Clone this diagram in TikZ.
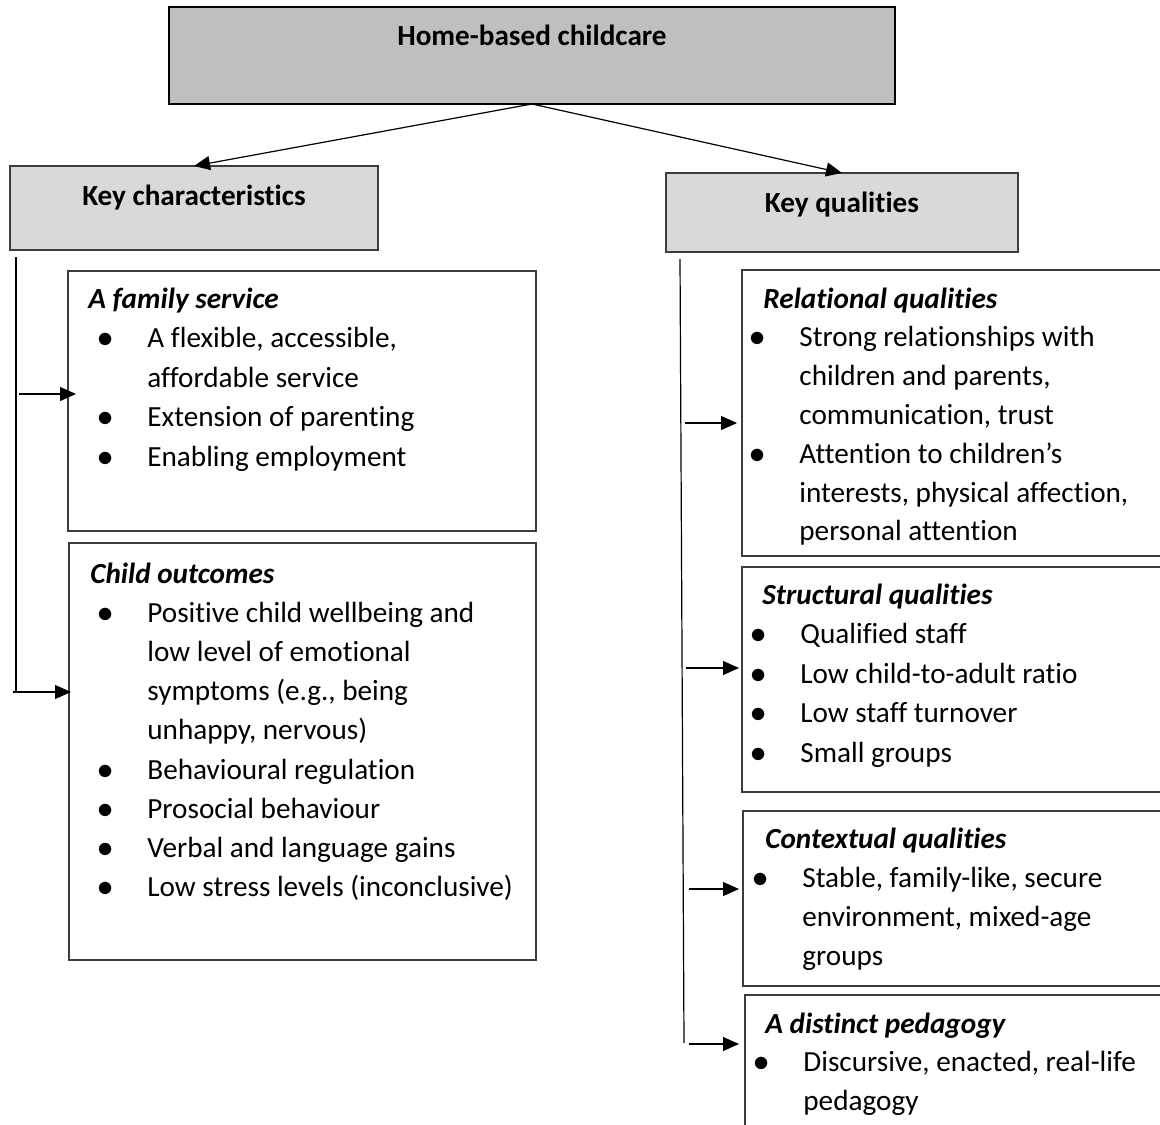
\documentclass[tikz,border=0pt]{standalone}
\usepackage{fontspec}
\setmainfont{Carlito}[Ligatures={NoCommon}]
\usetikzlibrary{arrows.meta,calc}
\definecolor{headGray}{RGB}{191,191,191}
\definecolor{keyGray}{RGB}{217,217,217}
\definecolor{edgeGray}{RGB}{60,60,60}
\newcommand{\bodysize}{\fontsize{14.6}{19.6}\selectfont}
\newcommand{\bul}{\makebox[42pt]{\scalebox{1.12}{$\bullet$}}}
\newcommand{\boxtitle}[2]{\multicolumn{2}{@{\hspace{#1}}l@{}}{\bfseries\itshape #2}}

\begin{document}
\begin{tikzpicture}[x=0.5pt,y=-0.5pt,
    font=\bodysize,
    box/.style={draw=edgeGray, line width=0.6pt, inner sep=0pt, outer sep=0pt, anchor=north west},
    headbox/.style={box, fill=headGray, draw=black, line width=0.8pt},
    keybox/.style={box, fill=keyGray},
    headtext/.style={anchor=base, font=\bodysize\bfseries},
    listbox/.style={anchor=base west, inner sep=0pt, font=\fontsize{14.6}{#1}\selectfont},
    arr/.style={-{Triangle[length=8pt,width=7pt]}, line width=0.6pt},
    vline/.style={line width=0.6pt}]
\useasboundingbox (0,0) rectangle (1160,1124);

% top of the tree
\node[headbox, minimum width=363pt, minimum height=48.5pt] (home) at (169,7) {};
\node[headtext] (homeT) at (home.north |- 0,45) {Home-based childcare};
\node[keybox, minimum width=184pt, minimum height=42pt] (kchar) at (10,166) {};
\node[headtext] (kcharT) at (kchar.north |- 0,205) {Key characteristics};
\node[keybox, minimum width=176pt, minimum height=39.5pt] (kqual) at (666,173) {};
\node[headtext] (kqualT) at (kqual.north |- 0,212) {Key qualities};
\draw[arr] (home.south) -- (kchar.north);
\draw[arr] (home.south) -- (kqual.north);

% key characteristics
\node[box, minimum width=234pt, minimum height=130pt] (fam) at (68,271) {};
\node[box, minimum width=233.5pt, minimum height=208.5pt] (child) at (69,543) {};
\node[listbox=19.75pt] (famL) at (63,308) {\begin{tabular}[t]{@{}l@{}l@{}}
  \boxtitle{12.5pt}{A family service}\\
  \bul & A flexible, accessible,\\
       & affordable service\\
  \bul & Extension of parenting\\
  \bul & Enabling employment
\end{tabular}};
\node[listbox=19.6pt] (childL) at (63,583) {\begin{tabular}[t]{@{}l@{}l@{}}
  \boxtitle{13.5pt}{Child outcomes}\\
  \bul & Positive child wellbeing and\\
       & low level of emotional\\
       & symptoms (e.g., being\\
       & unhappy, nervous)\\
  \bul & Behavioural regulation\\
  \bul & Prosocial behaviour\\
  \bul & Verbal and language gains\\
  \bul & Low stress levels (inconclusive)
\end{tabular}};
\coordinate (lTop) at (16,257);
\coordinate (lBot) at (16,692);
\coordinate (lA) at (19,394);
\coordinate (lB) at (13,692);
\draw[vline] (lTop) -- (lBot);
\draw[arr] (lA) -- ($(fam.west |- lA)+(8,0)$);
\draw[arr] (lB) -- ($(child.west |- lB)+(2,0)$);

% key qualities
\node[box, minimum width=216.5pt, minimum height=143pt] (rel) at (742,270) {};
\node[box, minimum width=216.5pt, minimum height=112.5pt] (struc) at (742,567) {};
\node[box, minimum width=216pt, minimum height=87.5pt] (ctx) at (743,811) {};
\node[box, minimum width=215pt, minimum height=72.5pt] (ped) at (745,995) {};
\node[listbox=19.4pt] (relL) at (715,308) {\begin{tabular}[t]{@{}l@{}l@{}}
  \boxtitle{24pt}{Relational qualities}\\
  \bul & Strong relationships with\\
       & children and parents,\\
       & communication, trust\\
  \bul & Attention to children’s\\
       & interests, physical affection,\\
       & personal attention
\end{tabular}};
\node[listbox=19.75pt] (strucL) at (716,604) {\begin{tabular}[t]{@{}l@{}l@{}}
  \boxtitle{23pt}{Structural qualities}\\
  \bul & Qualified staff\\
  \bul & Low child-to-adult ratio\\
  \bul & Low staff turnover\\
  \bul & Small groups
\end{tabular}};
\node[listbox=19.5pt] (ctxL) at (718,848) {\begin{tabular}[t]{@{}l@{}l@{}}
  \boxtitle{23.5pt}{Contextual qualities}\\
  \bul & Stable, family-like, secure\\
       & environment, mixed-age\\
       & groups
\end{tabular}};
\node[listbox=19.25pt] (pedL) at (719,1033) {\begin{tabular}[t]{@{}l@{}l@{}}
  \boxtitle{23pt}{A distinct pedagogy}\\
  \bul & Discursive, enacted, real-life\\
       & pedagogy
\end{tabular}};
\coordinate (rTop) at (680,259);
\coordinate (rBot) at (684,1043);
\coordinate (rA) at (685,423);
\coordinate (rB) at (686,668);
\coordinate (rC) at (689,889);
\coordinate (rD) at (689,1044);
\draw[vline] (rTop) -- (rBot);
\draw[arr] (rA) -- ($(rel.west |- rA)+(-5,0)$);
\draw[arr] (rB) -- ($(struc.west |- rB)+(-3,0)$);
\draw[arr] (rC) -- ($(ctx.west |- rC)+(-4,0)$);
\draw[arr] (rD) -- ($(ped.west |- rD)+(-6,0)$);
\end{tikzpicture}
\end{document}
